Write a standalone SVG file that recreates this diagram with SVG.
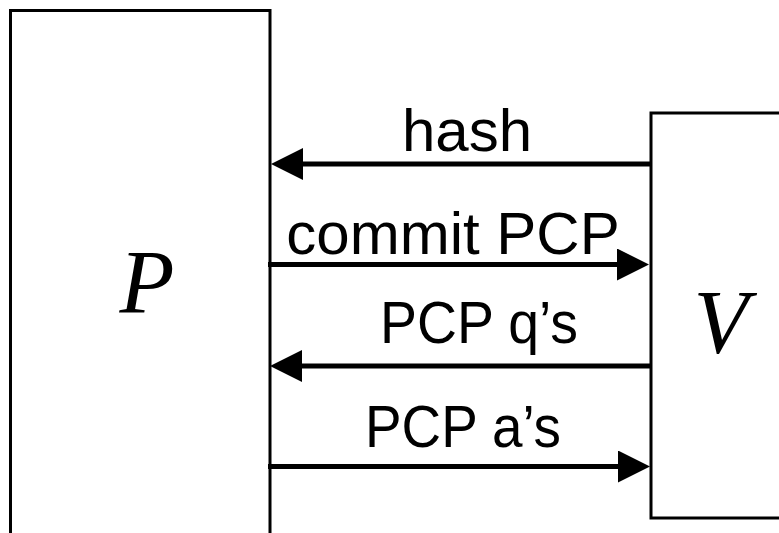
<svg xmlns="http://www.w3.org/2000/svg" width="779" height="533" viewBox="0 0 779 533">
<style>
.box{fill:#fff;stroke:#000;stroke-width:3}
.arr{stroke:#000;stroke-width:5;fill:none;marker-end:url(#ah)}
.lbl{font-family:"Liberation Sans",Arial,sans-serif;font-size:60px;fill:#000;text-anchor:middle}
.var{font-family:"Liberation Serif","Times New Roman",serif;font-style:italic;font-size:90px;fill:#000;text-anchor:middle}
</style>
<defs>
<marker id="ah" markerUnits="userSpaceOnUse" markerWidth="34" markerHeight="34" refX="4" refY="16" orient="auto" viewBox="0 0 34 34">
<path d="M0,0 L32,16 L0,32 Z" fill="#000"/>
</marker>
</defs>
<rect width="779" height="533" fill="#fff"/>
<g id="prover">
<rect class="box" x="10.5" y="10.5" width="259.5" height="560"/>
<text class="var" x="147" y="313">P</text>
</g>
<g id="verifier">
<rect class="box" x="651" y="113" width="160" height="405"/>
<text class="var" x="721" y="353">V</text>
</g>
<g id="connectors">
<line class="arr" x1="651" y1="164" x2="299" y2="164"/>
<text class="lbl" x="467" y="151">hash</text>
<line class="arr" x1="268" y1="264.5" x2="621" y2="264.5"/>
<text class="lbl" x="453" y="254">commit PCP</text>
<line class="arr" x1="651" y1="366" x2="298" y2="366"/>
<text class="lbl" x="479" y="343" textLength="198" lengthAdjust="spacingAndGlyphs">PCP q’s</text>
<line class="arr" x1="268" y1="466.5" x2="622" y2="466.5"/>
<text class="lbl" x="463" y="447" textLength="196" lengthAdjust="spacingAndGlyphs">PCP a’s</text>
</g>
</svg>
